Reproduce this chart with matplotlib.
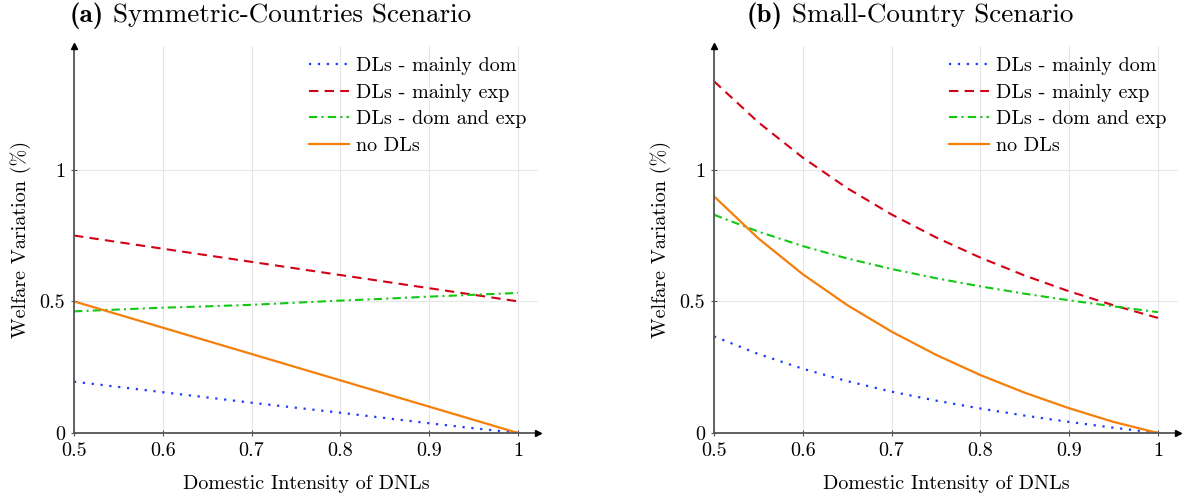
import matplotlib
matplotlib.use("Agg")
import matplotlib.pyplot as plt

plt.rcParams.update(
    {
        "font.family": "cmr10",
        "mathtext.fontset": "cm",
        "axes.formatter.use_mathtext": True,
        "axes.unicode_minus": False,
    }
)

W, H = 1187, 499

# Domestic intensity grid shared by both scenarios
intensity = [0.5, 0.55, 0.6, 0.65, 0.7, 0.75, 0.8, 0.85, 0.9, 0.95, 1.0]

# (a) Symmetric-Countries Scenario
sym_mainly_dom = [0.195, 0.175, 0.155, 0.135, 0.115, 0.096, 0.077, 0.057, 0.037, 0.018, 0.0]
sym_mainly_exp = [0.75, 0.725, 0.70, 0.675, 0.65, 0.625, 0.60, 0.575, 0.55, 0.525, 0.50]
sym_dom_and_exp = [0.462, 0.469, 0.476, 0.481, 0.487, 0.495, 0.503, 0.510, 0.518, 0.525, 0.532]
sym_no_dls = [0.50, 0.45, 0.40, 0.35, 0.30, 0.25, 0.20, 0.15, 0.10, 0.05, 0.0]

# (b) Small-Country Scenario
small_mainly_dom = [0.367, 0.300, 0.244, 0.197, 0.157, 0.123, 0.093, 0.066, 0.042, 0.020, 0.0]
small_mainly_exp = [1.336, 1.180, 1.046, 0.930, 0.830, 0.743, 0.666, 0.598, 0.538, 0.485, 0.437]
small_dom_and_exp = [0.829, 0.765, 0.710, 0.663, 0.623, 0.588, 0.557, 0.529, 0.504, 0.481, 0.459]
small_no_dls = [0.899, 0.739, 0.603, 0.486, 0.385, 0.297, 0.220, 0.153, 0.094, 0.042, 0.0]

series_labels = ["DLs - mainly dom", "DLs - mainly exp", "DLs - dom and exp", "no DLs"]
x_ticks = [0.5, 0.6, 0.7, 0.8, 0.9, 1.0]
x_tick_labels = ["0.5", "0.6", "0.7", "0.8", "0.9", "1"]
y_ticks = [0, 0.5, 1]
y_tick_labels = ["0", "0.5", "1"]

STYLES = [
    dict(color="#1a3cff", linestyle=(0, (1, 3.0)), linewidth=1.6),
    dict(color="#d40014", linestyle=(0, (4.5, 3)), linewidth=1.5),
    dict(color="#12c812", linestyle=(0, (4, 2, 1, 2)), linewidth=1.5),
    dict(color="#f57f0a", linestyle="-", linewidth=1.6),
]
AXIS_COLOR = "#555555"
FS = 14.5

fig = plt.figure(figsize=(W / 100, H / 100), dpi=100)
renderer = fig.canvas.get_renderer()


def px_axes(left, right, top, bottom):
    return fig.add_axes([left / W, 1 - bottom / H, (right - left) / W, (bottom - top) / H])


def panel_title(tag, text, center_px, baseline_px=22, size=19.5):
    # bold tag followed by roman text, centred as a whole
    y = 1 - baseline_px / H
    t1 = fig.text(0, y, tag, family="cmb10", fontsize=size, va="baseline")
    t2 = fig.text(0, y, " " + text, family="cmr10", fontsize=size, va="baseline")
    w1 = t1.get_window_extent(renderer).width
    w2 = t2.get_window_extent(renderer).width
    x0 = center_px - (w1 + w2) / 2
    t1.set_x(x0 / W)
    t2.set_x((x0 + w1) / W)


def draw_panel(ax, data):
    for y, style, label in zip(data, STYLES, series_labels):
        ax.plot(intensity, y, label=label, **style, zorder=3)

    ax.set_xlim(0.5, 1.0225)
    ax.set_ylim(0, 1.47)
    ax.set_xticks(x_ticks, x_tick_labels)
    ax.set_yticks(y_ticks, y_tick_labels)
    ax.grid(True, color="#e6e6e6", linewidth=0.8, zorder=0)
    ax.tick_params(direction="inout", length=5, width=0.8, color=AXIS_COLOR,
                   labelsize=FS, pad=4)
    for side in ("top", "right"):
        ax.spines[side].set_visible(False)
    for side in ("left", "bottom"):
        ax.spines[side].set_color(AXIS_COLOR)
        ax.spines[side].set_linewidth(1.3)
        ax.spines[side].set_zorder(4)

    # arrow heads on the axis lines
    ax.plot([1.0], [0.0], marker=">", color="black", markersize=5,
            transform=ax.transAxes, clip_on=False, zorder=5)
    ax.plot([0.0], [1.0], marker="^", color="black", markersize=5,
            transform=ax.transAxes, clip_on=False, zorder=5)

    ax.set_xlabel("Domestic Intensity of DNLs", fontsize=FS, labelpad=11)
    ax.set_ylabel("Welfare Variation (%)", fontsize=FS, labelpad=6)


ax_a = px_axes(74, 538, 46, 433)
draw_panel(ax_a, [sym_mainly_dom, sym_mainly_exp, sym_dom_and_exp, sym_no_dls])
panel_title("(a)", "Symmetric-Countries Scenario", 270)

ax_b = px_axes(714, 1178, 46, 433)
draw_panel(ax_b, [small_mainly_dom, small_mainly_exp, small_dom_and_exp, small_no_dls])
panel_title("(b)", "Small-Country Scenario", 910)

for ax, x0 in ((ax_a, 309), (ax_b, 949)):
    ax.legend(loc="upper left", bbox_to_anchor=(x0 / W, 1 - 57 / H),
              bbox_transform=fig.transFigure, frameon=False, fontsize=FS,
              handlelength=2.0, handletextpad=0.35, labelspacing=0.42,
              borderpad=0, borderaxespad=0)

fig.savefig("out.png", dpi=100)
